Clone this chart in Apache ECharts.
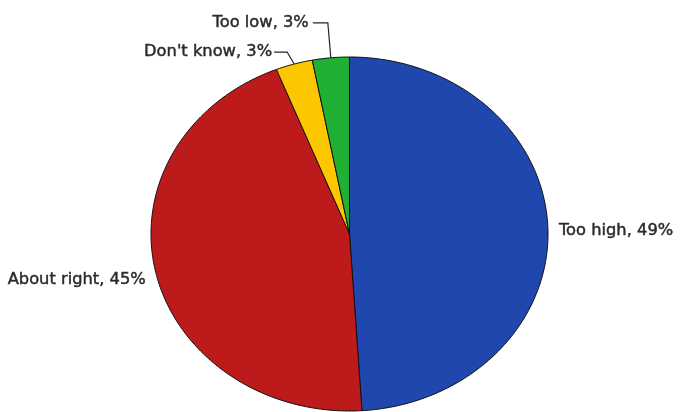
<!DOCTYPE html>
<html>
<head>
<meta charset="utf-8">
<script src="https://cdn.jsdelivr.net/npm/echarts@6/dist/echarts.min.js"></script>
<style>
html,body{margin:0;padding:0;background:#fff;}
#chart{width:681px;height:412px;}
</style>
</head>
<body>
<div id="chart"></div>
<script>
// ---- data ----
const categories = ['Too high', 'About right', "Don't know", 'Too low'];
const values = [49, 45, 3, 3];
const percentLabels = ['49%', '45%', '3%', '3%'];

// ---- style ----
const colors = ['#1f47ad', '#bd1b1b', '#fdc700', '#20b134'];
const labelLayout = [
  { type: 'side', align: 'left', dx: 11, dy: 2 },
  { type: 'side', align: 'right', dx: -10, dy: 7 },
  { type: 'leader', ex: -7, ey: -12, len: 13, gap: 2 },
  { type: 'leader', ex: -3, ey: -35, len: 15, gap: 4 }
];

const total = values.reduce((a, b) => a + b, 0);
const starts = [];
let acc = 0;
values.forEach(v => { starts.push(acc); acc += v; });

const chart = echarts.init(document.getElementById('chart'));

function renderItem(params, api) {
  const i = params.dataIndex;
  const a0 = starts[i] / total * Math.PI * 2;
  const a1 = (starts[i] + values[i]) / total * Math.PI * 2;
  const pts = [api.coord([0, 0])];
  const n = Math.max(8, Math.ceil((a1 - a0) / (Math.PI * 2) * 360));
  for (let k = 0; k <= n; k++) {
    const a = a0 + (a1 - a0) * k / n;
    pts.push(api.coord([Math.sin(a), Math.cos(a)]));
  }
  const am = (a0 + a1) / 2;
  const P = api.coord([Math.sin(am), Math.cos(am)]);
  const L = labelLayout[i];
  const text = categories[i] + ', ' + percentLabels[i];
  const children = [{
    type: 'polygon',
    shape: { points: pts },
    style: { fill: colors[i], stroke: '#111', lineWidth: 1 }
  }];
  const font = { fontFamily: 'DejaVu Sans', fontSize: 16.3, fill: '#2a2a2a', stroke: '#2a2a2a', lineWidth: 0.45 };
  if (L.type === 'side') {
    children.push({
      type: 'text',
      style: Object.assign({ text: text, x: P[0] + L.dx, y: P[1] + L.dy, align: L.align, verticalAlign: 'middle' }, font)
    });
  } else {
    const E = [P[0] + L.ex, P[1] + L.ey];
    const F = [E[0] - L.len, E[1]];
    children.push({
      type: 'polyline',
      shape: { points: [P, E, F] },
      style: { stroke: '#222', lineWidth: 1.2, fill: null }
    });
    children.push({
      type: 'text',
      style: Object.assign({ text: text, x: F[0] - L.gap, y: F[1], align: 'right', verticalAlign: 'middle' }, font)
    });
  }
  return { type: 'group', children: children };
}

chart.setOption({
  animation: false,
  backgroundColor: '#fff',
  grid: { left: 151, top: 57, width: 397, height: 354, show: false },
  xAxis: { type: 'value', min: -1, max: 1, show: false },
  yAxis: { type: 'value', min: -1, max: 1, show: false },
  series: [{
    type: 'custom',
    coordinateSystem: 'cartesian2d',
    clip: false,
    renderItem: renderItem,
    encode: { x: 0, y: 1 },
    data: values.map((v, i) => [0, 0, i])
  }]
});
</script>
</body>
</html>
